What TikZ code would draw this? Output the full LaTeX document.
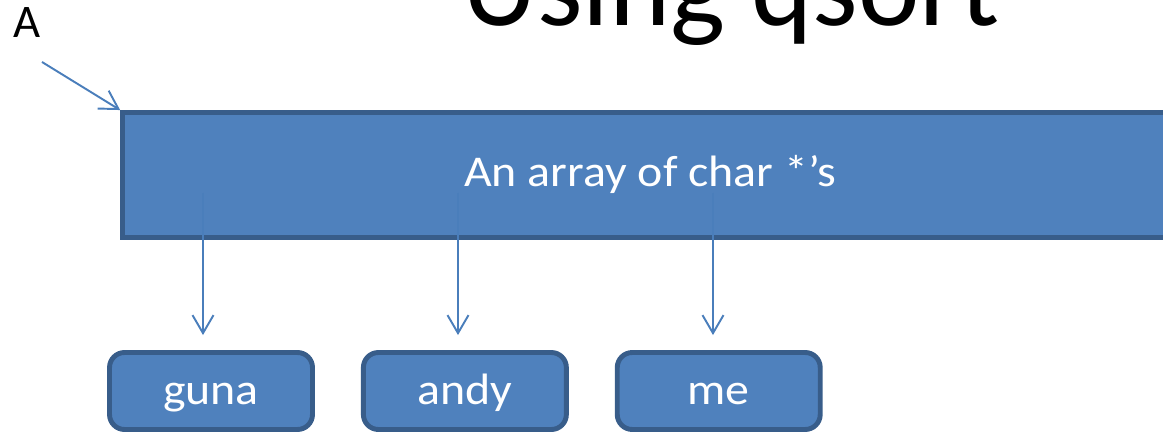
\documentclass[tikz,border=0pt]{standalone}
\usepackage{fontspec}
\setmainfont{Carlito}
\usepackage{xcolor}
\usetikzlibrary{arrows.meta, positioning}
\definecolor{slideblue}{RGB}{79, 129, 189}
\definecolor{slideedge}{RGB}{56, 93, 138}
\definecolor{ptrblue}{RGB}{74, 126, 187}
\newcommand{\stretchtxt}[1]{\scalebox{1.09}[1]{#1}}

\begin{document}
\begin{tikzpicture}[x=0.02cm, y=-0.02cm, every node/.style={font=\fontsize{26.6}{30}\selectfont},
  arraybox/.style={draw=slideedge, fill=slideblue, line width=2.8pt, text=white, font=\fontsize{25}{29}\selectfont, minimum width=21.1cm, minimum height=2.5cm, text height=16pt, text depth=2.4pt},
  strbox/.style={draw=slideedge, fill=slideblue, line width=2.8pt, rounded corners=0.3cm, text=white, font=\fontsize{25}{29}\selectfont, minimum width=4.06cm, minimum height=1.54cm, text height=16.5pt, text depth=0.7pt},
  ptr/.style={draw=ptrblue, line width=1.1pt, -{Straight Barb[length=0.36cm, width=0.42cm]}}]
\clip (0,0) rectangle (1163,432);
\node[anchor=base, font=\fontsize{66.3}{70}\selectfont] (title) at (731,26) {Using qsort};
\node (lblA) at (27,23) {A};
\node[arraybox] (arr) at (650,175) {\stretchtxt{An array of char *'s}};
\node[strbox] (guna) at (211,391) {\stretchtxt{guna}};
\node[strbox, right=0.92cm of guna] (andy) {\stretchtxt{andy}};
\node[strbox, right=0.92cm of andy] (me) {\stretchtxt{me}};
% pointers
\coordinate (tail) at (42,62);
\coordinate (s1) at (203,193);
\coordinate (s2) at (458,193);
\coordinate (s3) at (713,193);
\draw[ptr] (tail) -- (arr.north west);
\draw[ptr, shorten >=0.3cm] (s1) -- (s1 |- guna.north);
\draw[ptr, shorten >=0.3cm] (s2) -- (s2 |- andy.north);
\draw[ptr, shorten >=0.3cm] (s3) -- (s3 |- me.north);
\end{tikzpicture}
\end{document}
